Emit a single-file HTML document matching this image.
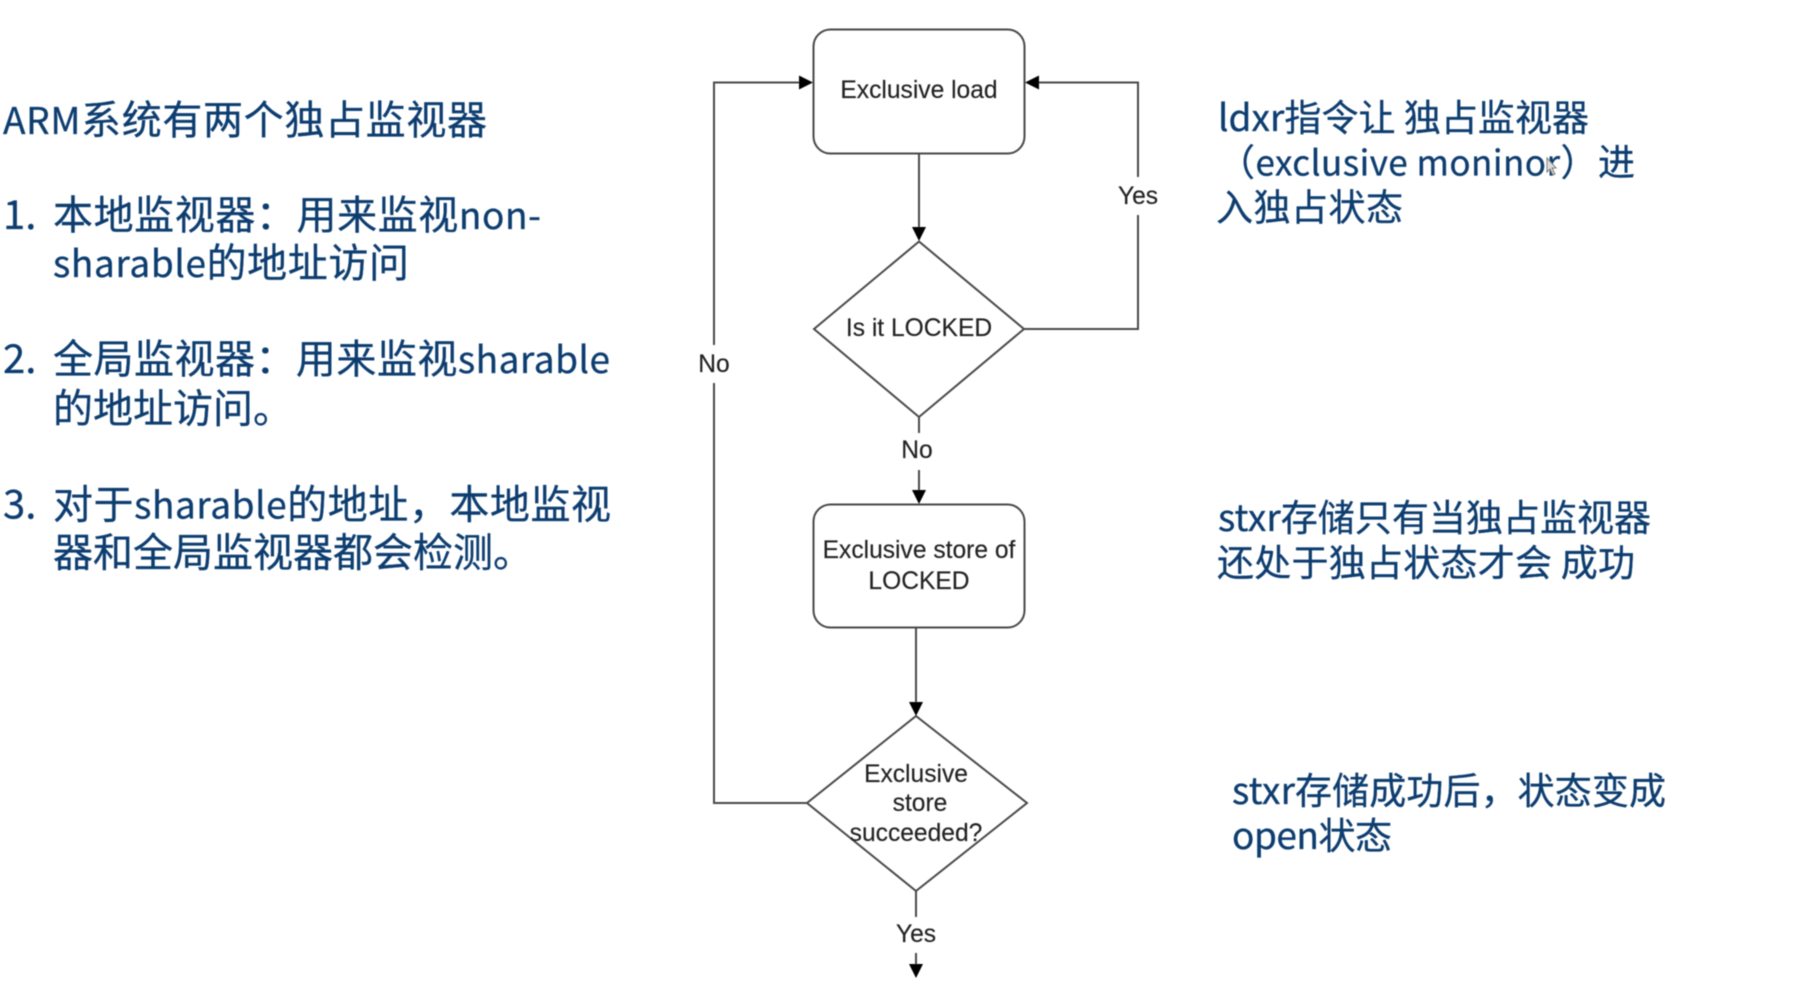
<!DOCTYPE html>
<html>
<head>
<meta charset="utf-8">
<style>
html,body{margin:0;padding:0;background:#fff;width:1799px;height:994px;overflow:hidden}
svg{display:block;position:absolute;left:0;top:0}
.t{font-family:"Noto Sans CJK SC","Liberation Sans",sans-serif;fill:#0b3d70;stroke:#0b3d70;stroke-width:0.3px;font-size:40px}
.r{font-size:37px}
.l{font-size:37px}
.d{font-family:"Liberation Sans",Arial,sans-serif;font-size:24.6px;fill:#222;stroke:#222;stroke-width:0.15px;text-anchor:middle}
</style>
</head>
<body>
<svg width="1799" height="994" viewBox="0 0 1799 994" xmlns="http://www.w3.org/2000/svg">
<defs><filter id="b" x="-5%" y="-5%" width="110%" height="110%"><feGaussianBlur stdDeviation="0.55"/></filter></defs>
<g filter="url(#b)">
<!-- left text -->
<text class="t" x="3" y="134" textLength="484"><tspan class="l">ARM</tspan>系统有两个独占监视器</text>
<text class="t" x="3" y="229">1.</text>
<text class="t" x="53" y="229" textLength="488">本地监视器：用来监视<tspan class="l">non-</tspan></text>
<text class="t" x="53" y="277" textLength="356"><tspan class="l">sharable</tspan>的地址访问</text>
<text class="t" x="3" y="373">2.</text>
<text class="t" x="53" y="373" textLength="557">全局监视器：用来监视<tspan class="l">sharable</tspan></text>
<text class="t" x="53" y="422.5" textLength="240">的地址访问。</text>
<text class="t" x="3" y="518.5">3.</text>
<text class="t" x="53" y="518.5" textLength="558">对于<tspan class="l">sharable</tspan>的地址，本地监视</text>
<text class="t" x="53" y="566.5" textLength="480">器和全局监视器都会检测。</text>

<!-- right text -->
<text class="t r" x="1218" y="131" textLength="371">ldxr指令让 独占监视器</text>
<text class="t r" x="1218" y="175.5" textLength="417">（<tspan style="font-size:35px">exclusive moninor</tspan>）进</text>
<text class="t r" x="1216" y="220.5" textLength="187">入独占状态</text>
<text class="t r" x="1218" y="531" textLength="433">stxr存储只有当独占监视器</text>
<text class="t r" x="1217" y="576" textLength="418">还处于独占状态才会 成功</text>
<text class="t r" x="1232" y="804" textLength="434">stxr存储成功后，状态变成</text>
<text class="t r" x="1232" y="849" textLength="160">open状态</text>

<!-- cursor -->
<polygon points="1552,158 1552,172 1555,169 1558,175 1560,174 1557,168 1561,168" fill="#ddd" stroke="#777" stroke-width="1" transform="translate(-5,0)"/>

<!-- shapes -->
<g fill="none" stroke="#4a4a4a" stroke-width="2">
<rect x="813.5" y="29.5" width="211" height="124" rx="17" ry="17"/>
<rect x="813.5" y="504.5" width="211" height="123" rx="17" ry="17"/>
<polygon points="919,241.5 1024,329 919,417 814,329"/>
<polygon points="916,716 1027,803 916,891 807,803"/>
<!-- connectors -->
<path d="M919 153V230"/>
<path d="M919 417V433M919 470V492"/>
<path d="M916 627V704"/>
<path d="M916 891V917M916 953V965"/>
<path d="M807 803H714V383M714 345V82.5H800"/>
<path d="M1024 329H1138V215M1138 177V82.5H1037"/>
</g>
<!-- arrowheads -->
<g fill="#000">
<polygon points="919,241 912,227 926,227"/>
<polygon points="919,504 912,490 926,490"/>
<polygon points="916,716 909,702 923,702"/>
<polygon points="916,978 909,964 923,964"/>
<polygon points="813,82.5 799,75.5 799,89.5"/>
<polygon points="1025,82.5 1039,75.5 1039,89.5"/>
</g>
<!-- labels -->
<text class="d" x="919" y="98">Exclusive load</text>
<text class="d" x="919" y="336">Is it LOCKED</text>
<text class="d" x="919" y="558">Exclusive store of</text>
<text class="d" x="919" y="589">LOCKED</text>
<text class="d" x="916" y="782">Exclusive</text>
<text class="d" x="920" y="811">store</text>
<text class="d" x="916" y="841">succeeded?</text>
<text class="d" x="1138" y="204">Yes</text>
<text class="d" x="714" y="372">No</text>
<text class="d" x="917" y="458">No</text>
<text class="d" x="916" y="942">Yes</text>
</g>
</svg>
</body>
</html>
